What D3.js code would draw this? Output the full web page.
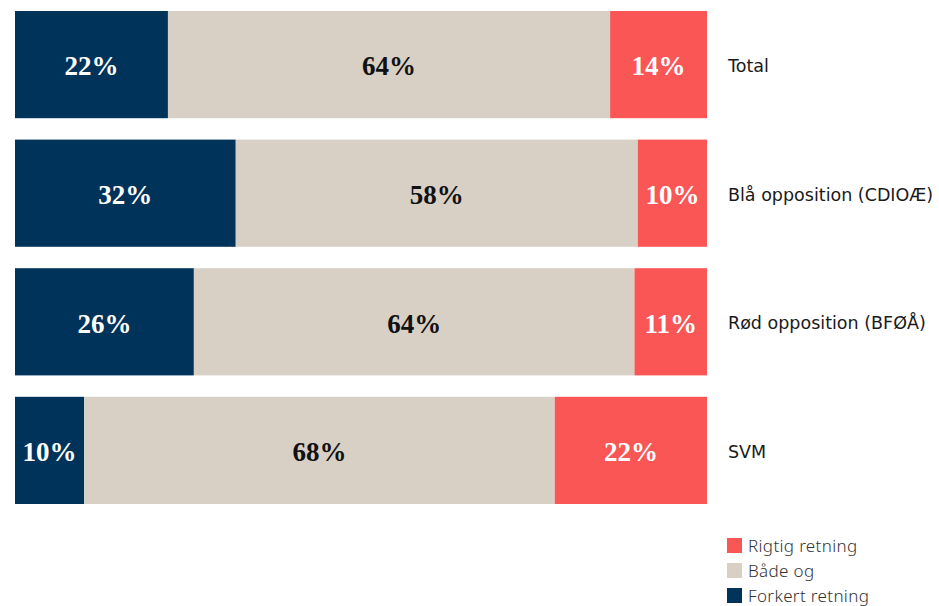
<!DOCTYPE html>
<html>
<head>
<meta charset="utf-8">
<script src="https://cdn.jsdelivr.net/npm/d3@7"></script>
<style>
  body { margin: 0; background: #fff; }
  .val { font-family: "Liberation Serif", "DejaVu Serif", serif; font-size: 27px; font-weight: bold; }
  .cat { font-family: "DejaVu Sans", sans-serif; font-size: 17.5px; fill: #1a1a1a; }
  .leg { font-family: "Noto Sans", sans-serif; font-size: 17px; font-weight: 300; fill: #333; letter-spacing: 0.35px; }
</style>
</head>
<body>
<script>
var categories = ["Total", "Blå opposition (CDIOÆ)", "Rød opposition (BFØÅ)", "SVM"],
    keys = ["forkert", "baade", "rigtig"],
    keyNames = ["Forkert retning", "Både og", "Rigtig retning"],
    forkert = [22.1, 31.9, 25.9, 10.0],
    baade = [63.9, 58.1, 63.8, 68.0],
    rigtig = [14.0, 10.0, 10.5, 22.0],
    colors = ["#00335a", "#d9d0c5", "#fa5656"],
    textColors = ["#fff", "#111", "#fff"]

var width = 939, height = 606

var rows = categories.map(function(c, i) {
  return { cat: c, forkert: forkert[i], baade: baade[i], rigtig: rigtig[i] }
})

var svg = d3.select("body").append("svg")
    .attr("width", width)
    .attr("height", height)

var x = d3.scaleLinear().domain([0, 1]).range([15, 707])
var y = d3.scaleBand().domain(categories).range([11, 504]).paddingInner(0.1665)

var series = d3.stack().keys(keys).offset(d3.stackOffsetExpand)(rows)

var layers = svg.selectAll(".layer")
    .data(series)
    .enter().append("g")
    .attr("class", "layer")
    .attr("fill", function(d, i) { return colors[i] })

layers.selectAll("rect")
    .data(function(d) { return d })
    .enter().append("rect")
    .attr("x", function(d) { return x(d[0]) })
    .attr("y", function(d) { return y(d.data.cat) })
    .attr("width", function(d) { return x(d[1]) - x(d[0]) })
    .attr("height", y.bandwidth())

layers.selectAll("text")
    .data(function(d, i) { return d.map(function(p) { return { p: p, i: i, key: keys[i] } }) })
    .enter().append("text")
    .attr("class", "val")
    .attr("x", function(d) { return (x(d.p[0]) + x(d.p[1])) / 2 })
    .attr("y", function(d) { return y(d.p.data.cat) + y.bandwidth() / 2 })
    .attr("dy", "0.4em")
    .attr("text-anchor", "middle")
    .attr("fill", function(d) { return textColors[d.i] })
    .text(function(d) { return Math.round(d.p.data[d.key]) + "%" })

svg.selectAll(".cat")
    .data(categories)
    .enter().append("text")
    .attr("class", "cat")
    .attr("x", 728)
    .attr("y", function(d) { return y(d) + y.bandwidth() / 2 })
    .attr("dy", "0.42em")
    .text(function(d) { return d })

// legend, top-down: rigtig, baade, forkert
var legendKeys = [2, 1, 0]
var legend = svg.selectAll(".legend")
    .data(legendKeys)
    .enter().append("g")
    .attr("class", "legend")
    .attr("transform", function(d, i) { return "translate(727," + (538 + i * 25) + ")" })

legend.append("rect")
    .attr("width", 15)
    .attr("height", 15)
    .attr("fill", function(d) { return colors[d] })

legend.append("text")
    .attr("class", "leg")
    .attr("x", 21)
    .attr("y", 7.5)
    .attr("dy", "0.38em")
    .text(function(d) { return keyNames[d] })
</script>
</body>
</html>
